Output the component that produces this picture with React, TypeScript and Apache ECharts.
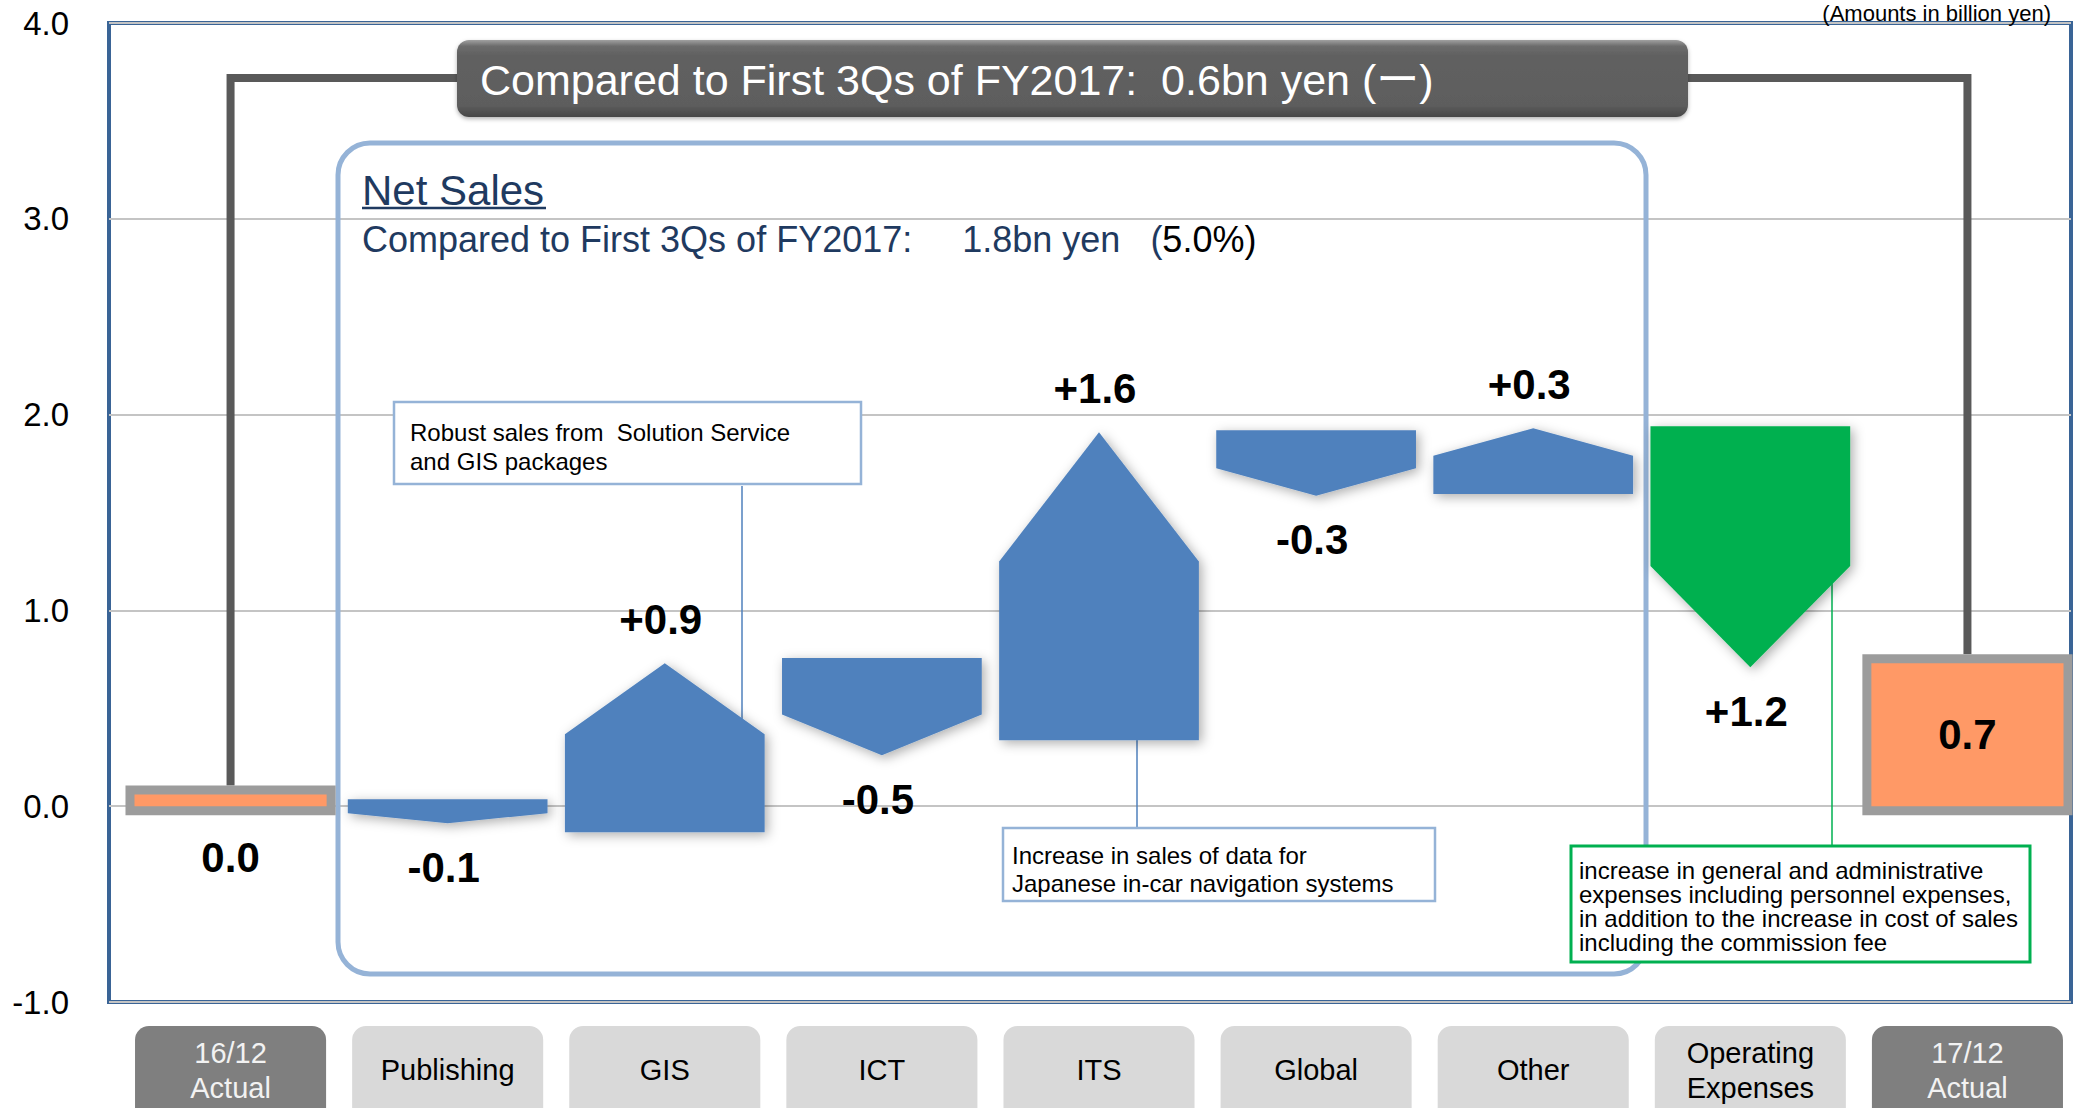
import React, { useEffect, useRef } from 'react';
import * as echarts from 'echarts';

// ---------- data (billion yen) ----------
const categories = ['16/12\nActual', 'Publishing', 'GIS', 'ICT', 'ITS', 'Global', 'Other', 'Operating\nExpenses', '17/12\nActual'];
const yMin = -1;
const yMax = 4;
const yStep = 1;

const actualIndex = [0, 8];
const actualValues = [0.06, 0.73];
const actualLabels = ['0.0', '0.7'];

const stepIndex = [1, 2, 3, 4, 5, 6, 7];
const stepFrom = [0.035, -0.133, 0.757, 0.337, 1.92, 1.595, 1.94];
const stepTo = [-0.087, 0.73, 0.26, 1.91, 1.585, 1.93, 0.71];
const stepLabels = ['-0.1', '+0.9', '-0.5', '+1.6', '-0.3', '+0.3', '+1.2'];
const stepKinds = ['sales', 'sales', 'sales', 'sales', 'sales', 'sales', 'expense'];

const titleText = 'Compared to First 3Qs of FY2017:  0.6bn yen (ー)';
const panelTitle = 'Net Sales';
const panelSubMain = 'Compared to First 3Qs of FY2017:     1.8bn yen   (';
const panelSubEnd = '5.0%)';
const unitText = '(Amounts in billion yen)';
const note1 = 'Robust sales from  Solution Service\nand GIS packages';
const note2 = 'Increase in sales of data for\nJapanese in-car navigation systems';
const note3 = 'increase in general and administrative\nexpenses including personnel expenses,\nin addition to the increase in cost of sales\nincluding the commission fee';

const FONT = '"Liberation Sans", Arial, "Noto Sans CJK JP", sans-serif';

export default function App() {
  const ref = useRef<HTMLDivElement>(null);

  useEffect(() => {
    document.body.style.margin = '0';
    if (!ref.current) return;
    const chart = echarts.init(ref.current, null, { renderer: 'svg' });

    const blue = '#4F81BD';
    const green = '#00B050';
    const orange = '#FF9966';

    const option: any = {
      animation: false,
      backgroundColor: '#ffffff',
      grid: [
        { left: 122, right: 2, top: 23, bottom: 106, outerBoundsMode: 'none', containLabel: false },
        {
          left: 109, right: 7, top: 23, bottom: 106, outerBoundsMode: 'none', containLabel: false,
          show: true, borderColor: '#3A6496', borderWidth: 4, backgroundColor: 'transparent',
        },
      ],
      xAxis: [
        {
          gridIndex: 0,
          type: 'category',
          data: categories,
          z: 10,
          axisLine: { show: false },
          axisTick: { show: false },
          splitLine: { show: false },
          axisLabel: {
            interval: 0,
            margin: 33,
            formatter: (v: string, i: number) => {
              const dark = actualIndex.indexOf(i) >= 0;
              const lines = v.split('\n');
              const s = dark ? 'w' : 'k';
              if (lines.length === 1) return `{${s}1|${v}}`;
              return lines.map((l) => `{${s}2|${l}}`).join('\n');
            },
            rich: {
              w1: { color: '#F2F2F2', fontSize: 29, lineHeight: 70, fontFamily: FONT },
              w2: { color: '#F2F2F2', fontSize: 29, lineHeight: 35, fontFamily: FONT },
              k1: { color: '#000000', fontSize: 29, lineHeight: 70, fontFamily: FONT },
              k2: { color: '#000000', fontSize: 29, lineHeight: 35, fontFamily: FONT },
            },
          },
        },
        { gridIndex: 1, type: 'value', show: false, min: 0, max: 1 },
      ],
      yAxis: [
        { gridIndex: 0, type: 'value', min: yMin, max: yMax, interval: yStep, show: false },
        {
          gridIndex: 1,
          type: 'value',
          min: yMin,
          max: yMax,
          interval: yStep,
          axisLine: { show: false },
          axisTick: { show: false },
          axisLabel: {
            formatter: (v: number) => v.toFixed(1),
            color: '#000000',
            fontSize: 33,
            fontFamily: FONT,
            margin: 40,
          },
          splitLine: { lineStyle: { color: '#C4C4C4', width: 2 } },
        },
      ],
      series: [
        {
          name: 'categoryBoxes',
          type: 'custom',
          xAxisIndex: 0,
          yAxisIndex: 0,
          clip: false,
          silent: true,
          data: categories.map((_, i) => [i, yMin]),
          renderItem: (params: any, api: any) => {
            const p = api.coord([api.value(0), api.value(1)]);
            const w = api.size([1, 0])[0] * 0.88;
            const dark = actualIndex.indexOf(params.dataIndex) >= 0;
            return {
              type: 'rect',
              shape: { x: p[0] - w / 2, y: p[1] + 24, width: w, height: 110, r: 14 },
              style: { fill: dark ? '#7F7F7F' : '#D9D9D9' },
            };
          },
        },
        {
          name: 'bridge',
          type: 'custom',
          xAxisIndex: 0,
          yAxisIndex: 0,
          clip: false,
          silent: true,
          data: [[actualIndex[0], actualValues[0], actualIndex[1], actualValues[1]]],
          renderItem: (params: any, api: any) => {
            const a = api.coord([api.value(0), api.value(1)]);
            const b = api.coord([api.value(2), api.value(3)]);
            const topY = 78;
            return {
              type: 'polyline',
              shape: { points: [[a[0], a[1] - 9], [a[0], topY], [b[0], topY], [b[0], b[1] - 9]] },
              style: { stroke: '#595959', lineWidth: 8, fill: 'none', lineJoin: 'miter' },
            };
          },
        },
        {
          name: 'actual',
          type: 'custom',
          xAxisIndex: 0,
          yAxisIndex: 0,
          clip: false,
          silent: true,
          data: actualIndex.map((c, i) => [c, actualValues[i]]),
          renderItem: (params: any, api: any) => {
            const cat = api.value(0);
            const v = api.value(1);
            const p0 = api.coord([cat, 0]);
            const p1 = api.coord([cat, v]);
            const w = api.size([1, 0])[0] * 0.885;
            const pad = 9;
            const h = p0[1] - p1[1];
            const inside = h > 60;
            return {
              type: 'group',
              children: [
                {
                  type: 'rect',
                  shape: { x: p0[0] - w / 2 - pad, y: p1[1] - pad, width: w + 2 * pad, height: h + 2 * pad },
                  style: { fill: '#9C9C9C' },
                },
                {
                  type: 'rect',
                  shape: { x: p0[0] - w / 2, y: p1[1], width: w, height: h },
                  style: { fill: orange },
                },
                {
                  type: 'text',
                  style: {
                    text: actualLabels[params.dataIndex],
                    x: p0[0],
                    y: inside ? (p0[1] + p1[1]) / 2 : p0[1] + pad + 42,
                    fill: '#000000',
                    font: `bold 42px ${FONT}`,
                    align: 'center',
                    verticalAlign: 'middle',
                  },
                },
              ],
            };
          },
        },
        {
          name: 'steps',
          type: 'custom',
          xAxisIndex: 0,
          yAxisIndex: 0,
          clip: false,
          silent: true,
          data: stepIndex.map((c, i) => [c, stepFrom[i], stepTo[i]]),
          renderItem: (params: any, api: any) => {
            const idx = params.dataIndex;
            const cat = api.value(0);
            const pF = api.coord([cat, api.value(1)]);
            const pT = api.coord([cat, api.value(2)]);
            const w = api.size([1, 0])[0] * 0.92;
            const cx = pF[0];
            const yB = pF[1];
            const yT = pT[1];
            const yS = yT + (yB - yT) * 0.42;
            const up = yT < yB;
            const color = stepKinds[idx] === 'expense' ? green : blue;
            return {
              type: 'group',
              children: [
                {
                  type: 'polygon',
                  shape: {
                    points: [
                      [cx - w / 2, yB],
                      [cx + w / 2, yB],
                      [cx + w / 2, yS],
                      [cx, yT],
                      [cx - w / 2, yS],
                    ],
                  },
                  style: {
                    fill: color,
                    shadowBlur: 12,
                    shadowColor: 'rgba(0,0,0,0.32)',
                    shadowOffsetX: 3,
                    shadowOffsetY: 3,
                  },
                },
                {
                  type: 'text',
                  style: {
                    text: stepLabels[idx],
                    x: cx - 4,
                    y: yT + (up ? -44 : 44),
                    fill: '#000000',
                    font: `bold 42px ${FONT}`,
                    align: 'center',
                    verticalAlign: 'middle',
                  },
                },
              ],
            };
          },
        },
      ],
      graphic: [
        // Net Sales panel
        {
          type: 'rect', z: 1,
          shape: { x: 338, y: 143, width: 1308, height: 831, r: 32 },
          style: { fill: 'none', stroke: '#95B3D7', lineWidth: 5 },
        },
        // connectors
        { type: 'line', z: 1, shape: { x1: 742, y1: 486, x2: 742, y2: 740 }, style: { stroke: blue, lineWidth: 1.5 } },
        { type: 'line', z: 1, shape: { x1: 1137, y1: 730, x2: 1137, y2: 828 }, style: { stroke: blue, lineWidth: 1.5 } },
        { type: 'line', z: 1, shape: { x1: 1832, y1: 575, x2: 1832, y2: 846 }, style: { stroke: green, lineWidth: 1.5 } },
        // title box
        {
          type: 'rect', z: 10,
          shape: { x: 457, y: 40, width: 1231, height: 77, r: 12 },
          style: {
            fill: {
              type: 'linear', x: 0, y: 0, x2: 0, y2: 1,
              colorStops: [
                { offset: 0, color: '#A0A0A0' },
                { offset: 0.08, color: '#6C6C6C' },
                { offset: 0.2, color: '#616161' },
                { offset: 0.85, color: '#5D5D5D' },
                { offset: 1, color: '#464646' },
              ],
            },
            shadowBlur: 4, shadowColor: 'rgba(0,0,0,0.3)', shadowOffsetY: 2,
          },
        },
        {
          type: 'text', z: 11,
          style: {
            text: titleText, x: 480, y: 80, fill: '#FFFFFF', font: `43px ${FONT}`,
            align: 'left', verticalAlign: 'middle', textAlign: 'left', textVerticalAlign: 'middle',
          },
        },
        // panel title
        {
          type: 'text', z: 11,
          style: {
            text: panelTitle, x: 362, y: 190, fill: '#1F3A60', font: `42px ${FONT}`,
            align: 'left', verticalAlign: 'middle', textAlign: 'left', textVerticalAlign: 'middle',
          },
        },
        { type: 'line', z: 11, shape: { x1: 362, y1: 208, x2: 546, y2: 208 }, style: { stroke: '#1F3A60', lineWidth: 2.5 } },
        {
          type: 'text', z: 11,
          style: {
            text: `{n|${panelSubMain}}{b|${panelSubEnd}}`,
            x: 362, y: 239, font: `36px ${FONT}`,
            align: 'left', verticalAlign: 'middle', textAlign: 'left', textVerticalAlign: 'middle',
            rich: {
              n: { fill: '#1F3A60', color: '#1F3A60', fontSize: 36, fontFamily: FONT },
              b: { fill: '#000000', color: '#000000', fontSize: 36, fontFamily: FONT },
            },
          },
        },
        // units
        {
          type: 'text', z: 11,
          style: {
            text: unitText, x: 2051, y: 2, fill: '#000000', font: `22px ${FONT}`,
            align: 'right', verticalAlign: 'top', textAlign: 'right', textVerticalAlign: 'top',
          },
        },
        // note 1
        {
          type: 'rect', z: 10,
          shape: { x: 394, y: 402, width: 467, height: 82 },
          style: { fill: '#FFFFFF', stroke: '#95B3D7', lineWidth: 2.5 },
        },
        {
          type: 'text', z: 11,
          style: {
            text: note1, x: 410, y: 417.5, fill: '#000000', font: `24px ${FONT}`, lineHeight: 29,
            align: 'left', verticalAlign: 'top', textAlign: 'left', textVerticalAlign: 'top',
          },
        },
        // note 2
        {
          type: 'rect', z: 10,
          shape: { x: 1003, y: 828, width: 432, height: 73 },
          style: { fill: '#FFFFFF', stroke: '#95B3D7', lineWidth: 2.5 },
        },
        {
          type: 'text', z: 11,
          style: {
            text: note2, x: 1012, y: 841, fill: '#000000', font: `24px ${FONT}`, lineHeight: 28,
            align: 'left', verticalAlign: 'top', textAlign: 'left', textVerticalAlign: 'top',
          },
        },
        // note 3
        {
          type: 'rect', z: 10,
          shape: { x: 1571, y: 846, width: 459, height: 116 },
          style: { fill: '#FFFFFF', stroke: green, lineWidth: 3 },
        },
        {
          type: 'text', z: 11,
          style: {
            text: note3, x: 1579, y: 858, fill: '#000000', font: `24px ${FONT}`, lineHeight: 24,
            align: 'left', verticalAlign: 'top', textAlign: 'left', textVerticalAlign: 'top',
          },
        },
      ],
    };

    chart.setOption(option);
    return () => {
      chart.dispose();
    };
  }, []);

  return <div ref={ref} style={{ width: 2078, height: 1108 }} />;
}
